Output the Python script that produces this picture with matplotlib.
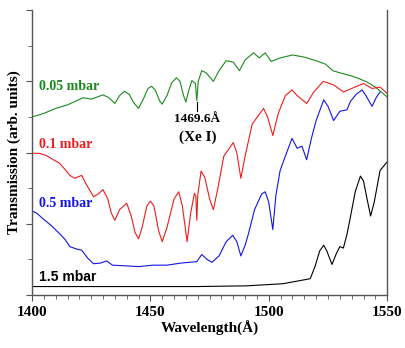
import matplotlib.pyplot as plt
from matplotlib.ticker import MultipleLocator, NullFormatter

# wavelength (Angstrom) / transmission (arb. units)
wl_005 = [1400, 1405, 1410, 1415, 1421.6, 1425, 1430, 1432.5, 1435, 1437, 1439,
          1441, 1443, 1445, 1447, 1449, 1450.5, 1452, 1454, 1455, 1457, 1459,
          1461, 1462.5, 1464, 1465, 1466, 1467.5, 1469.0, 1469.6, 1470.2,
          1471.7, 1473.5, 1476.6, 1479, 1482, 1485, 1487.6, 1490, 1493.5,
          1496, 1498.5, 1501, 1505, 1510, 1515, 1520, 1524, 1527, 1530,
          1534.5, 1538, 1541.5, 1545, 1550]
tr_005 = [2.50, 2.55, 2.62, 2.67, 2.77, 2.75, 2.81, 2.77, 2.69, 2.80, 2.86,
          2.82, 2.70, 2.62, 2.75, 2.90, 2.93, 2.88, 2.72, 2.68, 2.80, 2.98,
          3.05, 3.00, 2.80, 2.71, 2.85, 3.01, 2.97, 2.73, 3.00,
          3.15, 3.12, 3.00, 3.15, 3.29, 3.27, 3.15, 3.30, 3.40,
          3.33, 3.40, 3.28, 3.33, 3.37, 3.34, 3.29, 3.24, 3.15, 3.12,
          3.08, 3.04, 2.99, 2.92, 2.78]

wl_01 = [1400, 1403, 1406, 1409, 1411.7, 1414, 1416, 1418, 1421, 1423, 1426,
         1428, 1430, 1432, 1433.5, 1435, 1437, 1440, 1442, 1443.5, 1445,
         1446.5, 1448.5, 1450, 1451.5, 1453.5, 1455, 1457, 1460, 1462, 1463.5,
         1465.5, 1467, 1468.6, 1469.2, 1469.6, 1470, 1471.4, 1473, 1475,
         1476.6, 1478.5, 1481, 1485, 1486.5, 1488.2, 1490, 1493, 1497.8,
         1499.5, 1501.7, 1504, 1507, 1509.8, 1512, 1516, 1519, 1523, 1527.4,
         1531.6, 1535, 1540, 1543.6, 1547, 1550]
tr_01 = [1.99, 1.99, 1.96, 1.90, 1.85, 1.76, 1.68, 1.64, 1.68, 1.55, 1.38,
         1.42, 1.48, 1.35, 1.15, 1.05, 1.20, 1.29, 1.10, 0.88, 0.79,
         0.95, 1.25, 1.32, 1.25, 0.90, 0.75, 0.95, 1.35, 1.45, 1.25,
         0.75, 1.15, 1.43, 1.38, 1.05, 1.40, 1.74, 1.65, 1.35,
         1.20, 1.50, 1.95, 2.14, 2.00, 1.64, 1.95, 2.40, 2.62,
         2.50, 2.24, 2.55, 2.80, 2.88, 2.80, 2.69, 2.85, 3.00, 2.95,
         2.85, 2.90, 2.97, 2.90, 2.92, 2.83]

wl_05 = [1400, 1402, 1404.7, 1408, 1411.7, 1414, 1416, 1418.5, 1421, 1423.5,
         1426, 1429, 1431.5, 1434, 1440, 1445, 1451, 1457, 1463, 1469.6,
         1471.7, 1474, 1476, 1479, 1482, 1484.8, 1486.5, 1488.2, 1490, 1491.4,
         1494, 1497, 1498.5, 1500, 1501.7, 1503, 1504.8, 1507, 1509.8, 1512,
         1514, 1516, 1518, 1520, 1523.2, 1525, 1527.4, 1530, 1533, 1534.5,
         1537, 1539.4, 1541, 1543.6, 1545.5, 1547]
tr_05 = [1.18, 1.15, 1.07, 0.98, 0.86, 0.78, 0.68, 0.65, 0.63, 0.52,
         0.44, 0.45, 0.48, 0.42, 0.41, 0.40, 0.42, 0.42, 0.45, 0.47,
         0.57, 0.50, 0.46, 0.55, 0.75, 0.84, 0.75, 0.55, 0.70, 0.86,
         1.20, 1.42, 1.45, 1.30, 0.92, 1.40, 1.75, 1.95, 2.20, 2.06,
         2.09, 1.90, 2.20, 2.45, 2.74, 2.65, 2.45, 2.58, 2.60, 2.72,
         2.82, 2.88, 2.80, 2.65, 2.78, 2.85]

wl_15 = [1400, 1420, 1450, 1470, 1490.7, 1506, 1517.5, 1519.5, 1521.5, 1523.2,
         1524.5, 1526.7, 1528.5, 1530, 1531.5, 1533, 1534.5, 1536.5, 1538.7,
         1540, 1541.5, 1543, 1544.5, 1547, 1550]
tr_15 = [0.12, 0.12, 0.12, 0.12, 0.13, 0.16, 0.23, 0.40, 0.62, 0.70,
         0.62, 0.43, 0.58, 0.68, 0.66, 0.85, 1.10, 1.45, 1.67,
         1.60, 1.35, 1.11, 1.30, 1.75, 1.87]

series = [
    (wl_005, tr_005, "#1a8a1a", "0.05 mbar", 2.93, "Liberation Serif"),
    (wl_01, tr_01, "#ee1c1c", "0.1 mbar", 2.12, "Liberation Serif"),
    (wl_05, tr_05, "#1414e6", "0.5 mbar", 1.28, "Liberation Serif"),
    (wl_15, tr_15, "#000000", "1.5 mbar", 0.26, "Liberation Sans"),
]

fig = plt.figure(figsize=(4.05, 3.48), dpi=100)
ax = fig.add_axes([0.079, 0.152, 0.877, 0.819])

for wl, tr, col, lab, ly, fam in series:
    ax.plot(wl, tr, color=col, lw=0.8)
    ax.text(1403, ly, lab, color=col, fontsize=10, fontweight="bold",
            family=fam, va="center", ha="left")

# Xe I line marker
ax.plot([1469.6, 1469.6], [2.59, 2.71], color="black", lw=0.8)
ax.text(1469.8, 2.47, "1469.6Å", fontsize=9.5, fontweight="bold",
        family="Liberation Serif", ha="center", va="center")
ax.text(1469.8, 2.22, "(Xe I)", fontsize=11, fontweight="bold",
        family="Liberation Serif", ha="center", va="center")

ax.set_xlim(1400, 1550)
ax.set_ylim(0, 4)
ax.xaxis.set_major_locator(MultipleLocator(50))
ax.xaxis.set_minor_locator(MultipleLocator(5))
ax.yaxis.set_major_locator(MultipleLocator(1))
ax.yaxis.set_minor_locator(MultipleLocator(0.5))
ax.yaxis.set_major_formatter(NullFormatter())
ax.spines["top"].set_visible(False)
for s in ["left", "right", "bottom"]:
    ax.spines[s].set_color("#555555")
    ax.spines[s].set_linewidth(1.0)
ax.tick_params(which="major", length=4, color="#555555", direction="out")
ax.tick_params(which="minor", length=3, color="#555555", direction="out")
for t in ax.get_xticklabels():
    t.set_family("Liberation Serif")
    t.set_fontweight("bold")
    t.set_fontsize(11)
ax.set_xlabel("Wavelength(Å)", fontsize=11, fontweight="bold",
              family="Liberation Serif", labelpad=2)
ax.set_ylabel("Transmission (arb. units)", fontsize=11, fontweight="bold",
              family="Liberation Serif", va="center")
ax.yaxis.set_label_coords(-0.05, 0.5)

fig.savefig("out.png", dpi=100)
